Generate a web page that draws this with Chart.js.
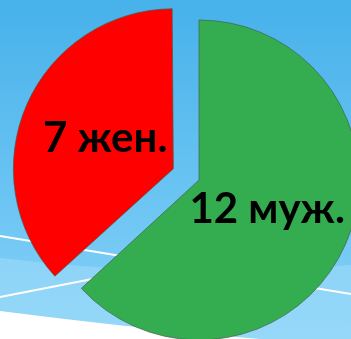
<!DOCTYPE html>
<html>
<head>
<meta charset="utf-8">
<script src="https://cdn.jsdelivr.net/npm/chart.js@4/dist/chart.umd.min.js"></script>
<style>
    html, body { margin: 0; padding: 0; background: #ffffff; }
    #wrap { position: relative; width: 351px; height: 339px; }
</style>
</head>
<body>
<div id="wrap"><canvas id="pieChart"></canvas></div>
<script>
// Chart data
const labels = ['муж.', 'жен.'];
const values = [12, 7];
const colors = ['#33ad4f', '#ff0000'];
const offsets = [0, 112];

// Slide background: sky gradient with light bands and white lines
const slideBackground = {
    id: 'slideBackground',
    beforeDraw(chart) {
        const ctx = chart.ctx;
        const w = chart.width;
        const h = chart.height;
        ctx.save();

        const grad = ctx.createLinearGradient(0, 0, 0, h);
        grad.addColorStop(0, '#47b1ea');
        grad.addColorStop(0.6, '#6cc5f3');
        grad.addColorStop(1, '#88d2f7');
        ctx.fillStyle = grad;
        ctx.fillRect(0, 0, w, h);

        // lighter band
        ctx.fillStyle = 'rgba(160, 220, 250, 0.55)';
        ctx.beginPath();
        ctx.moveTo(0, 258);
        ctx.quadraticCurveTo(180, 280, w, 265);
        ctx.lineTo(w, h);
        ctx.lineTo(0, h);
        ctx.closePath();
        ctx.fill();

        // white bottom
        ctx.fillStyle = '#ffffff';
        ctx.beginPath();
        ctx.moveTo(0, 311);
        ctx.quadraticCurveTo(150, 330, 260, h);
        ctx.lineTo(0, h);
        ctx.closePath();
        ctx.fill();

        // white lines
        ctx.strokeStyle = '#ffffff';
        ctx.lineWidth = 2;
        ctx.beginPath();
        ctx.moveTo(0, 236);
        ctx.lineTo(w, 294);
        ctx.moveTo(0, 297);
        ctx.lineTo(200, 258);
        ctx.stroke();

        ctx.restore();
    }
};

// Chart.js grows an exploded slice a little; keep all slices the same radius
const keepRadius = {
    id: 'keepRadius',
    afterDatasetsUpdate(chart) {
        chart.getDatasetMeta(0).data.forEach((arc, i) => {
            const fix = 1 - Math.sin(Math.min(Math.PI, arc.circumference || 0));
            arc.outerRadius -= (offsets[i] / 4) * fix;
        });
    }
};

// Value labels drawn inside each slice
const sliceLabels = {
    id: 'sliceLabels',
    afterDatasetsDraw(chart) {
        const ctx = chart.ctx;
        const meta = chart.getDatasetMeta(0);
        ctx.save();
        ctx.font = 'bold 42px Lato';
        ctx.fillStyle = '#000000';
        ctx.textAlign = 'center';
        ctx.textBaseline = 'middle';
        meta.data.forEach((arc, i) => {
            const p = arc.getProps(['x', 'y', 'startAngle', 'endAngle', 'outerRadius']);
            const mid = (p.startAngle + p.endAngle) / 2;
            const shift = offsets[i] / 4 + 160 * 0.465;
            const x = p.x + Math.cos(mid) * shift;
            const y = p.y + Math.sin(mid) * shift;
            ctx.fillText(values[i] + ' ' + labels[i], x, y);
        });
        ctx.restore();
    }
};

new Chart(document.getElementById('pieChart'), {
    type: 'pie',
    data: {
        labels: labels,
        datasets: [{
            data: values,
            backgroundColor: colors,
            borderColor: 'rgba(70, 95, 80, 0.7)',
            borderWidth: 1,
            offset: offsets,
            clip: false
        }]
    },
    options: {
        responsive: true,
        maintainAspectRatio: false,
        animation: false,
        radius: 160,
        layout: { padding: { left: 47, top: 21, right: 0, bottom: 0 } },
        plugins: {
            legend: { display: false },
            tooltip: { enabled: false }
        }
    },
    plugins: [slideBackground, keepRadius, sliceLabels]
});
</script>
</body>
</html>
